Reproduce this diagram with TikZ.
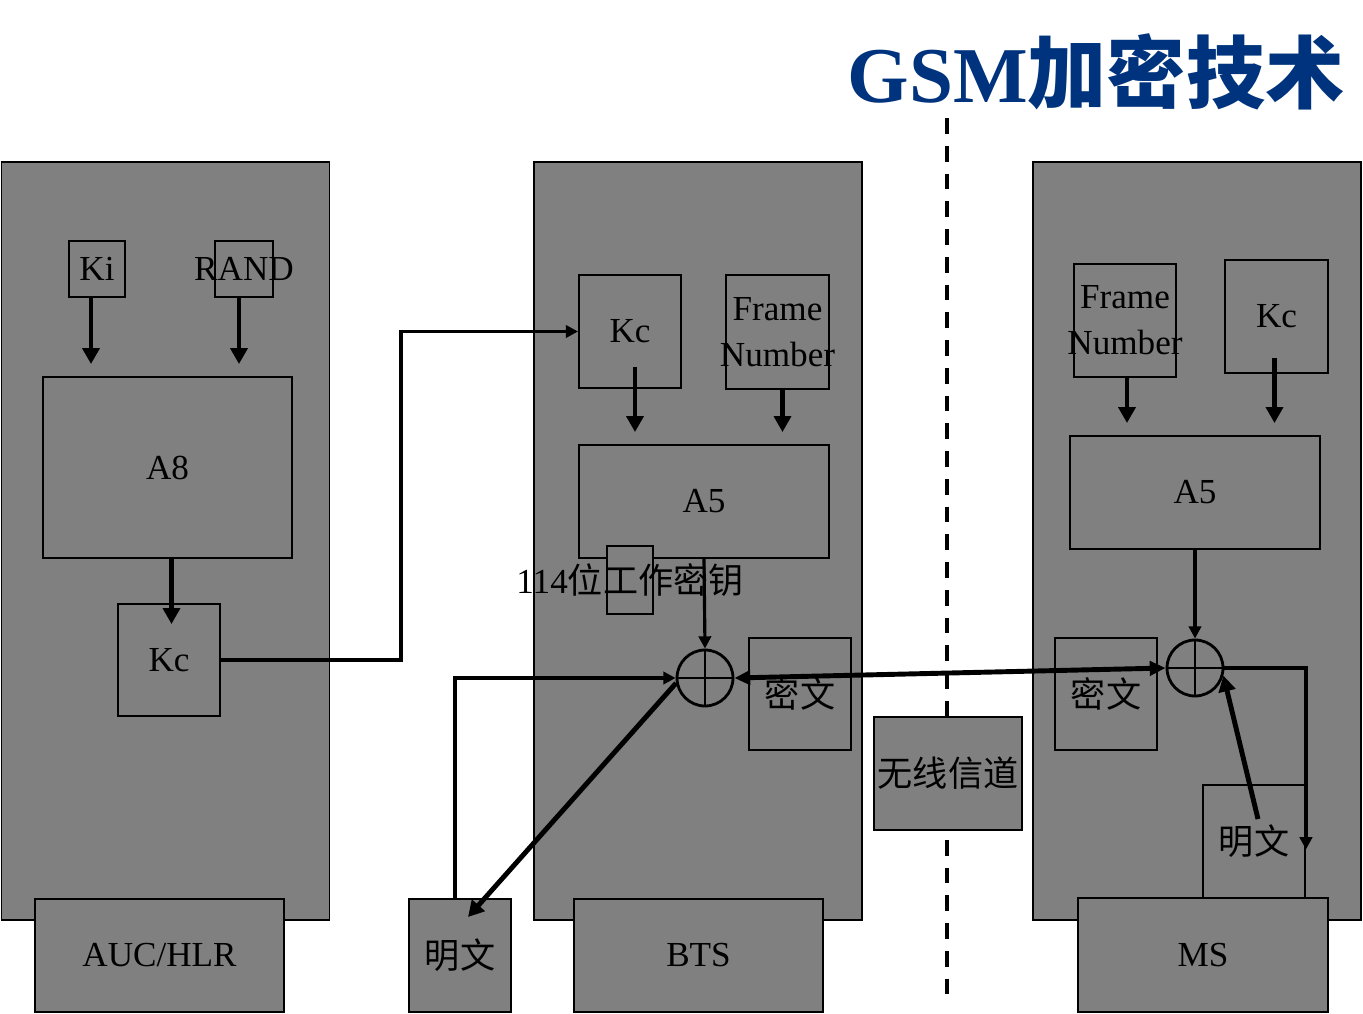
\documentclass[tikz,border=0pt]{standalone}
\usepackage{fontspec}
\setmainfont{Liberation Serif}
\newfontfamily\cjk{Noto Sans CJK SC}
\usetikzlibrary{arrows.meta, calc, positioning}
\definecolor{gsmblue}{RGB}{0,51,125}
\tikzstyle{panel} = [rectangle, draw=black, fill=gray, line width=1.1pt, minimum width=6.56cm, minimum height=15.16cm]
\tikzstyle{block} = [rectangle, draw=black, fill=gray, line width=1.1pt, inner sep=0pt, align=center]
\tikzstyle{smallbox} = [block, minimum width=2.04cm, minimum height=2.26cm]
\tikzstyle{widebox} = [block, minimum width=5cm, minimum height=2.26cm]
\tikzstyle{xorop} = [circle, draw=black, line width=1.6pt, minimum size=1.12cm, inner sep=0pt]
\tikzstyle{arrow} = [line width=1.8pt, -{Triangle[length=7pt, width=7pt]}]
\tikzstyle{fatarrow} = [line width=2.8pt, -{Triangle[length=9pt, width=9.5pt]}]
\tikzstyle{radio} = [line width=2.3pt, dash pattern=on 9pt off 6.8pt]

\begin{document}
\begin{tikzpicture}[x=0.02cm, y=-0.02cm, font=\fontsize{20}{26}\selectfont]
\useasboundingbox (0,0) rectangle (1363,1014);

% Title
\node (title) at (1096,72) {\fontsize{45}{48}\selectfont\bfseries\color{gsmblue}GSM{\cjk 加密技术}};

% Panels
\node (auc) [panel] at (165.5,541) {};
\node (bts) [panel] at (698,541) {};
\node (ms) [panel] at (1197,541) {};
\node (auclabel) [block, minimum width=4.98cm, minimum height=2.26cm] at (159.5,955.5) {AUC/HLR};
\node (btslabel) [widebox, minimum width=4.98cm] at (698.5,955.5) {BTS};
\node (mslabel) [widebox, minimum height=2.28cm] at (1203,955) {MS};

% Air interface
\coordinate (airtop) at (947,118);
\coordinate (airbot) at (947,1000);
\draw [radio] (airtop) -- (airbot);
\node (channel) [block, minimum width=2.96cm, minimum height=2.26cm] at (948,773.5) {\cjk 无线信道};

% AUC/HLR
\node (ki) [block, minimum size=1.12cm, label={center:Ki}] at (97,269) {};
\node (rand) [block, minimum width=1.16cm, minimum height=1.12cm, label={center:RAND}] at (244,269) {};
\node (aeight) [widebox, minimum width=4.98cm, minimum height=3.62cm] at (167.5,467.5) {A8};
\node (kcauc) [smallbox, minimum height=2.24cm] at (169,660) {Kc};

% BTS
\node (kcbts) [smallbox] at (630,331.5) {Kc};
\node (fnbts) [smallbox, minimum width=2.06cm, minimum height=2.28cm, label={[align=center]center:Frame\\Number}] at (777.5,332) {};
\node (afivebts) [widebox] at (704,501.5) {A5};
\node (keybox) [block, minimum width=0.92cm, minimum height=1.36cm, label={center:114{\cjk 位工作密钥}}] at (630,580) {};
\node (xorbts) [xorop] at (705,678) {};
\node (cipherbts) [smallbox, minimum height=2.24cm] at (800,694) {\cjk 密文};
\node (plainbts) [smallbox] at (460,955.5) {\cjk 明文};

% MS
\node (fnms) [smallbox, label={[align=center]center:Frame\\Number}] at (1125,320.5) {};
\node (kcms) [smallbox, minimum width=2.06cm] at (1276.5,316.5) {Kc};
\node (afivems) [widebox] at (1195,492.5) {A5};
\node (xorms) [xorop] at (1195,668) {};
\node (cipherms) [smallbox, minimum height=2.24cm] at (1106,694) {\cjk 密文};
\node (plainms) [smallbox] at (1254,841.5) {\cjk 明文};

% XOR crosses
\draw [line width=1.6pt] (xorbts.north) -- (xorbts.south) (xorbts.west) -- (xorbts.east);
\draw [line width=1.6pt] (xorms.north) -- (xorms.south) (xorms.west) -- (xorms.east);

% Arrows AUC/HLR
\draw [fatarrow] ($(ki.south)+(-6,0)$) -- ($(ki.south |- aeight.north)+(-6,-12)$);
\draw [fatarrow] ($(rand.south)+(-5,0)$) -- ($(rand.south |- aeight.north)+(-5,-12)$);
\draw [fatarrow] ($(aeight.south)+(4,0)$) -- ($(aeight.south |- kcauc.north)+(4,21)$);
\draw [arrow] (kcauc.east) -- ++(180,0) |- (kcbts.west);

% Arrows BTS
\draw [fatarrow] ($(kcbts.south)+(5,-22)$) -- ($(kcbts.south |- afivebts.north)+(5,-12)$);
\draw [fatarrow] ($(fnbts.south)+(5,0)$) -- ($(fnbts.south |- afivebts.north)+(5,-12)$);
\draw [arrow] (afivebts.south) -- (xorbts.north);
\draw [arrow] ($(plainbts.north)+(-5,0)$) |- (xorbts.west);
\draw [fatarrow] (xorbts.190) -- ($(plainbts.north)+(8,19)$);

% Radio link
\draw [fatarrow, {Triangle[length=9pt, width=8pt]}-{Triangle[length=9pt, width=8pt]}] (xorbts.east) -- (xorms.west);

% Arrows MS
\draw [fatarrow] ($(fnms.south)+(2,0)$) -- ($(fnms.south |- afivems.north)+(2,-12)$);
\draw [fatarrow] ($(kcms.south)+(-2,-16)$) -- ($(kcms.south |- afivems.north)+(-2,-12)$);
\draw [arrow] (afivems.south) -- (xorms.north);
\draw [fatarrow] ($(plainms.north)+(4,35)$) -- (xorms.-15);
\draw [arrow] (xorms.east) -| ($(plainms.east)+(0,8)$);

\end{tikzpicture}
\end{document}
